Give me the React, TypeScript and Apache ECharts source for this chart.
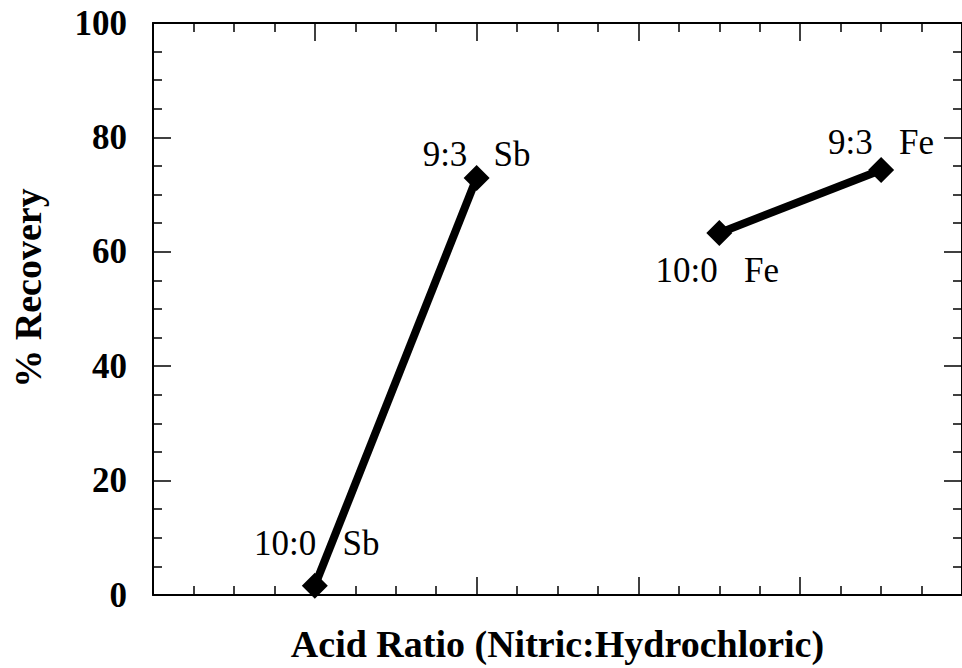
import React, { useEffect, useRef } from "react";
import * as echarts from "echarts";

// Data
const sbRatios = [1, 2]; // 10:0, 9:3 positions on x
const sbRecovery = [1.6, 72.9];
const sbLabels = ["10:0   Sb", "9:3   Sb"];

const feRatios = [3.5, 4.5];
const feRecovery = [63.3, 74.3];
const feLabels = ["10:0   Fe", "9:3   Fe"];

const yTicks = [0, 20, 40, 60, 80, 100];

const SERIF = '"Liberation Serif", "Times New Roman", serif';

export default function App() {
  const ref = useRef<HTMLDivElement>(null);

  useEffect(() => {
    if (!ref.current) return;
    const chart = echarts.init(ref.current, undefined, { renderer: "svg" });

    const sbOffsets = [[2, -42], [0, -24]];
    const feOffsets = [[-2, 38], [0, -28]];

    const mk = (xs: number[], ys: number[], labels: string[], offs: number[][]) =>
      xs.map((x, i) => ({
        value: [x, ys[i]],
        label: {
          show: true,
          formatter: labels[i],
          position: "inside",
          offset: offs[i],
        },
      }));

    const tickCommon = {
      show: true,
      inside: true,
      length: 18,
      lineStyle: { color: "#000", width: 1.5 },
    };
    const minorCommon = {
      show: true,
      splitNumber: 4,
      length: 9,
      lineStyle: { color: "#000", width: 1.5 },
    };
    const lineCommon = {
      show: true,
      onZero: false,
      lineStyle: { color: "#000", width: 2 },
    };

    const labelStyle = {
      color: "#000",
      fontFamily: SERIF,
      fontSize: 35,
      fontWeight: "normal" as const,
    };

    chart.setOption({
      animation: false,
      backgroundColor: "#fff",
      grid: { left: 153, right: -8, top: 23, bottom: 72, containLabel: false },
      xAxis: [
        {
          type: "value",
          min: 0,
          max: 5,
          interval: 1,
          position: "bottom",
          name: "Acid Ratio (Nitric:Hydrochloric)",
          nameLocation: "middle",
          nameGap: 30,
          nameTextStyle: {
            color: "#000",
            fontFamily: SERIF,
            fontSize: 38,
            fontWeight: "bold",
          },
          axisLine: lineCommon,
          axisTick: tickCommon,
          minorTick: minorCommon,
          axisLabel: { show: false },
          splitLine: { show: false },
        },
        {
          type: "value",
          min: 0,
          max: 5,
          interval: 1,
          position: "top",
          axisLine: lineCommon,
          axisTick: tickCommon,
          minorTick: minorCommon,
          axisLabel: { show: false },
          splitLine: { show: false },
        },
      ],
      yAxis: [
        {
          type: "value",
          min: yTicks[0],
          max: yTicks[yTicks.length - 1],
          interval: 20,
          position: "left",
          name: "% Recovery",
          nameLocation: "middle",
          nameGap: 106,
          nameTextStyle: {
            color: "#000",
            fontFamily: SERIF,
            fontSize: 38,
            fontWeight: "bold",
            padding: [0, 0, 0, 42],
          },
          axisLine: lineCommon,
          axisTick: tickCommon,
          minorTick: minorCommon,
          axisLabel: {
            show: true,
            margin: 26,
            color: "#000",
            fontFamily: SERIF,
            fontSize: 35,
            fontWeight: "bold",
          },
          splitLine: { show: false },
        },
        {
          type: "value",
          min: yTicks[0],
          max: yTicks[yTicks.length - 1],
          interval: 20,
          position: "right",
          axisLine: lineCommon,
          axisTick: tickCommon,
          minorTick: minorCommon,
          axisLabel: { show: false },
          splitLine: { show: false },
        },
      ],
      series: [
        {
          name: "Sb",
          type: "line",
          xAxisIndex: 0,
          yAxisIndex: 0,
          data: mk(sbRatios, sbRecovery, sbLabels, sbOffsets),
          symbol: "diamond",
          symbolSize: 26,
          itemStyle: { color: "#000" },
          lineStyle: { color: "#000", width: 8 },
          label: labelStyle,
          clip: false,
        },
        {
          name: "Fe",
          type: "line",
          xAxisIndex: 0,
          yAxisIndex: 0,
          data: mk(feRatios, feRecovery, feLabels, feOffsets),
          symbol: "diamond",
          symbolSize: 26,
          itemStyle: { color: "#000" },
          lineStyle: { color: "#000", width: 8 },
          label: labelStyle,
          clip: false,
        },
      ],
    });

    return () => chart.dispose();
  }, []);

  return (
    <div
      ref={ref}
      style={{ position: "fixed", left: 0, top: 0, width: 962, height: 668 }}
    />
  );
}
